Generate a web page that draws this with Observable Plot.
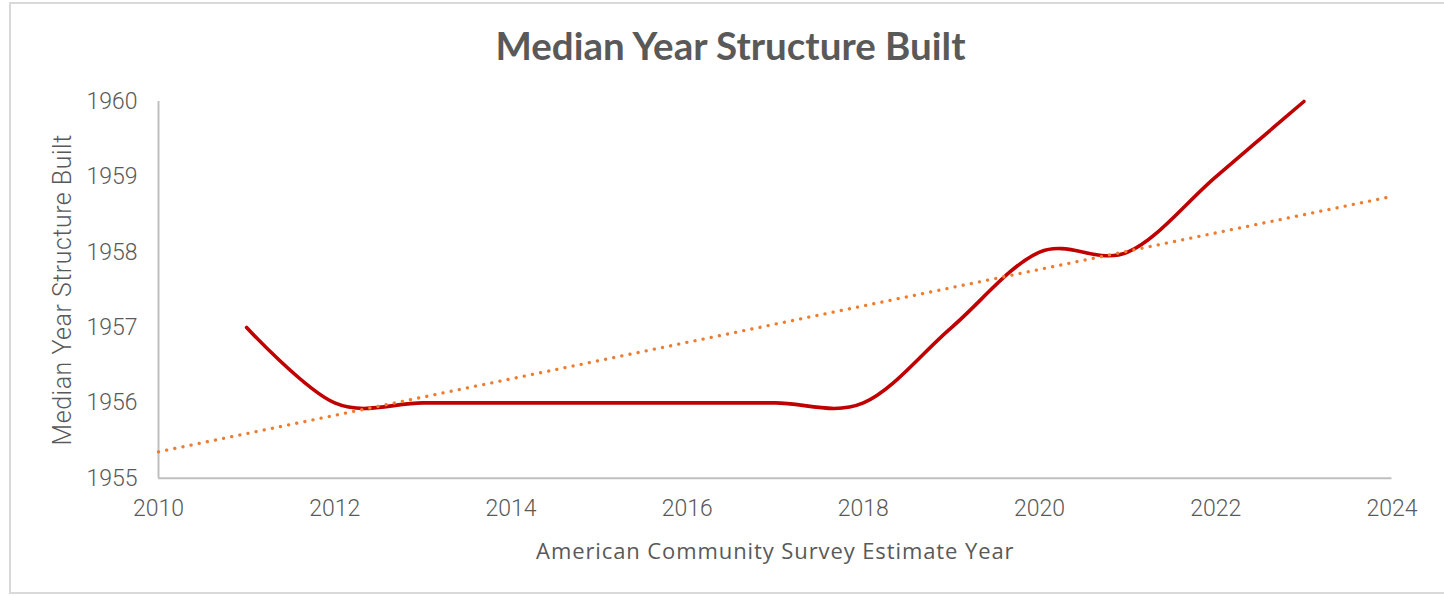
<!DOCTYPE html>
<html>
<head>
<meta charset="utf-8">
<script src="https://cdn.jsdelivr.net/npm/d3@7"></script>
<script src="https://cdn.jsdelivr.net/npm/@observablehq/plot@0.6"></script>
<style>
  html, body { margin: 0; padding: 0; background: #fff; }
  #wrap { position: relative; width: 1444px; height: 596px; overflow: hidden; }
  #frame { position: absolute; left: 9px; top: 2px; width: 1460px; height: 592px;
           border: 2px solid #d9d9d9; box-sizing: border-box; }
  #title { position: absolute; left: 0; top: 24px; width: 1461px; text-align: center;
           font-family: Lato, "Open Sans", sans-serif; font-weight: 700; font-size: 38.5px;
           line-height: 42px; color: #595959; }
  #chart { position: absolute; left: 0; top: 75px; }
</style>
</head>
<body>
<div id="wrap">
  <div id="frame"></div>
  <div id="title">Median Year Structure Built</div>
  <div id="chart"></div>
</div>
<script>
// ---- data ----
const years = [2011, 2012, 2013, 2014, 2015, 2016, 2017, 2018, 2019, 2020, 2021, 2022, 2023];
const medianYear = [1957, 1956, 1956, 1956, 1956, 1956, 1956, 1956, 1957, 1958, 1958, 1959, 1960];
const trendYears = [2010, 2024];
const trendValues = [1955.35, 1958.74];
const xTicks = [2010, 2012, 2014, 2016, 2018, 2020, 2022, 2024];
const yTicks = [1955, 1956, 1957, 1958, 1959, 1960];
const xTitle = "American Community Survey Estimate Year";
const yTitle = "Median Year Structure Built";

const series = years.map((x, i) => ({x, y: medianYear[i]}));
const trend = trendYears.map((x, i) => ({x, y: trendValues[i]}));

const chart = Plot.plot({
  width: 1444,
  height: 521,
  marginLeft: 158,
  marginRight: 52.5,
  marginTop: 26,
  marginBottom: 118.3,
  style: {fontFamily: "Roboto, Lato, sans-serif", fontSize: "23px", color: "#595959", fontWeight: 300, background: "transparent"},
  x: {domain: [2010, 2024]},
  y: {domain: [1955, 1960]},
  marks: [
    Plot.ruleX([2010], {stroke: "#bfbfbf", strokeWidth: 2}),
    Plot.ruleY([1955], {stroke: "#bfbfbf", strokeWidth: 2}),
    Plot.line(series, {x: "x", y: "y", stroke: "#C00000", strokeWidth: 3.6, curve: "cardinal", tension: 0}),
    Plot.line(trend, {x: "x", y: "y", stroke: "#ED7D31", strokeWidth: 3.3, strokeDasharray: "0.1 8.2", strokeLinecap: "round"}),
    Plot.axisX(xTicks, {tickSize: 0, tickPadding: 21, tickFormat: d => String(d), label: null}),
    Plot.axisY(yTicks, {tickSize: 0, tickPadding: 21, tickFormat: d => String(d), label: null}),
    Plot.text([yTitle], {frameAnchor: "left", dx: -96, rotate: -90, text: d => d, textAnchor: "middle", fontSize: 25, fill: "#595959", fontWeight: 300, lineAnchor: "middle"}),
    Plot.text([xTitle], {frameAnchor: "bottom", dy: 74, text: d => d, textAnchor: "middle", fontSize: 22, fill: "#595959", fontFamily: "'Open Sans', sans-serif", fontWeight: 400, lineAnchor: "middle"})
  ]
});
d3.select(chart).selectAll("text").filter(function() { return this.textContent === xTitle; })
  .style("letter-spacing", "0.9px");
d3.select(chart).selectAll("text").filter(function() { return this.textContent === yTitle; })
  .style("letter-spacing", "0.5px");
document.getElementById("chart").appendChild(chart);
</script>
</body>
</html>
